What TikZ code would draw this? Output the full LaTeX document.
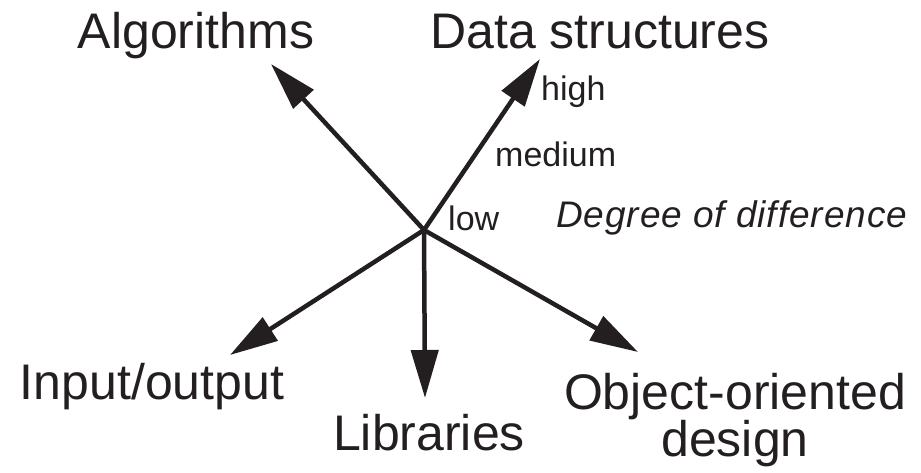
\documentclass[tikz,border=0pt]{standalone}
\usepackage{fontspec}
\setmainfont{Liberation Sans}
\newfontfamily\degfont[LetterSpace=2.5]{Liberation Sans}
\usetikzlibrary{arrows.meta}
\definecolor{ink}{HTML}{231F20}
\tikzset{
  big/.style={inner sep=0pt, anchor=base, text=ink, font=\fontsize{50}{47}\selectfont},
  small/.style={inner sep=0pt, anchor=base west, text=ink, font=\fontsize{34}{40}\selectfont},
  axis/.style={draw=ink, line width=4.5pt, -{Triangle[length=48pt,width=27pt]}}
}
\begin{document}
\begin{tikzpicture}[x=1pt,y=-1pt]
\useasboundingbox (0,0) rectangle (921,473);
% labels
\node[big] (alg) at (196,49) {Algorithms};
\node[big] (ds) at (600,49) {Data structures};
\node[big] (io) at (152,399) {Input/output};
\node[big] (lib) at (429,450) {Libraries};
\node[big, anchor=north, align=center] (ood) at (735,373) {Object-oriented\\design};
\node[small] (high) at (541,101) {high};
\node[small] (med) at (495,167) {medium};
\node[small] (low) at (448,231) {low};
\node[small, font=\fontsize{37}{40}\degfont\itshape] (deg) at (556,228) {Degree of difference};
% arrow geometry
\coordinate (c) at (424,230);
\coordinate (talg) at (271,64);
\coordinate (tds) at (540,59);
\coordinate (tio) at (230,355);
\coordinate (tlib) at (425,398);
\coordinate (tood) at (638,352);
\draw[axis] (c) -- (talg);
\draw[axis] (c) -- (tds);
\draw[axis] (c) -- (tio);
\draw[axis] (c) -- (tlib);
\draw[axis] (c) -- (tood);
\end{tikzpicture}
\end{document}
